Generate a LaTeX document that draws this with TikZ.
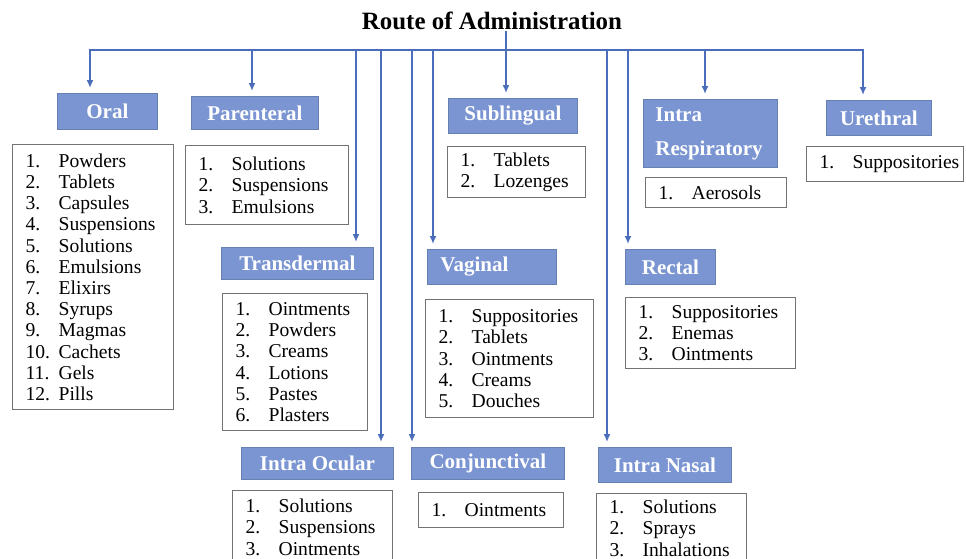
\documentclass[tikz,border=0pt]{standalone}
\usepackage{fontspec}
\setmainfont{Liberation Serif}
\usetikzlibrary{arrows.meta}

\definecolor{headblue}{RGB}{122,149,209}
\definecolor{linkblue}{RGB}{76,110,186}
\newcommand{\itm}[2]{\makebox[33pt][l]{#1}#2}

\begin{document}
\begin{tikzpicture}[x=1pt, y=-1pt,
		head/.style={fill=headblue, draw=headblue!85!black, line width=0.8pt, text=white, anchor=north west, font=\fontsize{21}{24}\selectfont\bfseries},
		itembox/.style={draw=black!55, line width=1.3pt, fill=white, anchor=north west, inner xsep=13pt, inner ysep=0pt, align=left, font=\fontsize{19.6}{21.2}\selectfont},
		link/.style={draw=linkblue, line width=2pt},
		drop/.style={link, -{Latex[length=8pt,width=7pt]}, shorten >=5pt}
		]
		
		\path[use as bounding box, fill=white] (0,0) rectangle (966,558);
		
		% ==========================================
		% TITLE AND DROP POINTS ON THE BUS
		% ==========================================
		\node[font=\fontsize{24.9}{28}\selectfont\bfseries, inner sep=1pt] (title) at (492,21) {Route of Administration};
		
		\foreach \name/\x in {oral/90, par/252, trans/356, ocular/381, conj/412, vag/433, sub/506, nasal/607, rect/628, resp/705, ureth/863} {
			\coordinate (d-\name) at (\x,50);
		}
		
		% ==========================================
		% ROUTE HEADS
		% ==========================================
		\node[head, minimum width=100pt, minimum height=36pt] (oral) at (57,93) {Oral};
		\node[head, minimum width=127pt, minimum height=33pt] (par) at (191,96) {Parenteral};
		\node[head, minimum width=129pt, minimum height=35pt] (sub) at (448,98) {Sublingual};
		\node[head, minimum width=134pt, minimum height=68pt, inner xsep=12pt, text width=110pt, align=left] (resp) at (643,99) {Intra\\[10pt]Respiratory};
		\node[head, minimum width=105pt, minimum height=35pt] (ureth) at (826,100) {Urethral};
		\node[head, minimum width=152pt, minimum height=32pt] (trans) at (221,247) {Transdermal};
		\node[head, minimum width=129pt, minimum height=35pt, inner xsep=13pt, text width=103pt, align=left] (vag) at (427,249) {Vaginal};
		\node[head, minimum width=90pt, minimum height=35pt] (rect) at (625,249) {Rectal};
		\node[head, minimum width=152pt, minimum height=32pt] (ocular) at (241,447) {Intra Ocular};
		\node[head, minimum width=153pt, minimum height=32pt] (conj) at (411,447) {Conjunctival};
		\node[head, minimum width=133pt, minimum height=35pt] (nasal) at (598,447) {Intra Nasal};
		
		% ==========================================
		% DOSAGE FORM LISTS
		% ==========================================
		\node[itembox, minimum width=161pt, minimum height=265pt, text width=135pt] (oralList) at (12,144) {
			\itm{1.}{Powders}\\ \itm{2.}{Tablets}\\ \itm{3.}{Capsules}\\ \itm{4.}{Suspensions}\\
			\itm{5.}{Solutions}\\ \itm{6.}{Emulsions}\\ \itm{7.}{Elixirs}\\ \itm{8.}{Syrups}\\
			\itm{9.}{Magmas}\\ \itm{10.}{Cachets}\\ \itm{11.}{Gels}\\ \itm{12.}{Pills}};
		\node[itembox, minimum width=163pt, minimum height=79pt, text width=137pt] (parList) at (185,145) {
			\itm{1.}{Solutions}\\ \itm{2.}{Suspensions}\\ \itm{3.}{Emulsions}};
		\node[itembox, minimum width=138pt, minimum height=51pt, text width=112pt] (subList) at (447,146) {
			\itm{1.}{Tablets}\\ \itm{2.}{Lozenges}};
		\node[itembox, minimum width=141pt, minimum height=30pt, text width=115pt] (respList) at (645,177) {
			\itm{1.}{Aerosols}};
		\node[itembox, minimum width=157pt, minimum height=35pt, text width=131pt] (urethList) at (806,146) {
			\itm{1.}{Suppositories}};
		\node[itembox, minimum width=145pt, minimum height=137pt, text width=119pt] (transList) at (222,293) {
			\itm{1.}{Ointments}\\ \itm{2.}{Powders}\\ \itm{3.}{Creams}\\
			\itm{4.}{Lotions}\\ \itm{5.}{Pastes}\\ \itm{6.}{Plasters}};
		\node[itembox, minimum width=168pt, minimum height=118pt, text width=142pt] (vagList) at (425,299) {
			\itm{1.}{Suppositories}\\ \itm{2.}{Tablets}\\ \itm{3.}{Ointments}\\
			\itm{4.}{Creams}\\ \itm{5.}{Douches}};
		\node[itembox, minimum width=170pt, minimum height=71pt, text width=144pt] (rectList) at (625,297) {
			\itm{1.}{Suppositories}\\ \itm{2.}{Enemas}\\ \itm{3.}{Ointments}};
		% bottom row: the page edge cuts these boxes
		\node[itembox, minimum width=160pt, minimum height=73pt, text width=134pt] (ocularList) at (232,490) {
			\itm{1.}{Solutions}\\ \itm{2.}{Suspensions}\\ \itm{3.}{Ointments}};
		\node[itembox, minimum width=145pt, minimum height=35pt, text width=119pt] (conjList) at (418,492) {
			\itm{1.}{Ointments}};
		\node[itembox, minimum width=150pt, minimum height=69pt, text width=124pt] (nasalList) at (596,493) {
			\itm{1.}{Solutions}\\ \itm{2.}{Sprays}\\ \itm{3.}{Inhalations}};
		
		% ==========================================
		% CONNECTORS
		% ==========================================
		% Bus with the two outer drops
		\draw[link, {Latex[length=8pt,width=7pt]}-{Latex[length=8pt,width=7pt]}, shorten <=5pt, shorten >=5pt]
			(d-oral |- oral.north) -- (d-oral) -- (d-ureth) -- (d-ureth |- ureth.north);
		\draw[link] (title.south -| d-sub) -- (d-sub);
		
		% Inner drops
		\foreach \name in {par, trans, ocular, conj, vag, sub, nasal, rect, resp} {
			\draw[drop] (d-\name) -- (d-\name |- \name.north);
		}
		
	\end{tikzpicture}
\end{document}
